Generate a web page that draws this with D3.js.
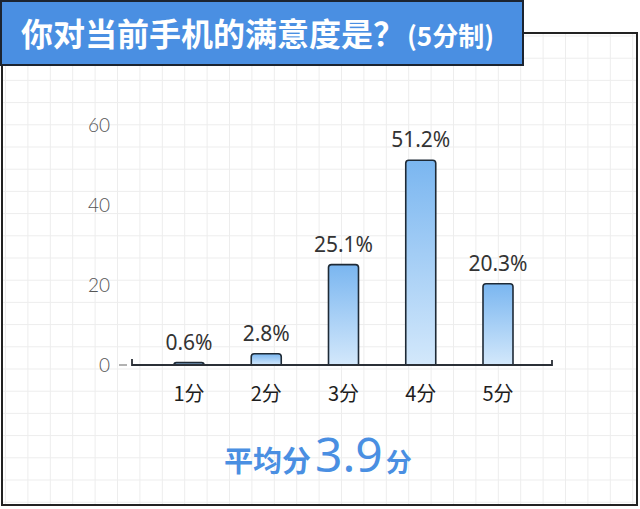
<!DOCTYPE html>
<html>
<head>
<meta charset="utf-8">
<script src="https://cdn.jsdelivr.net/npm/d3@7"></script>
<style>
  body { margin: 0; background: #fff; }
  svg { display: block; font-family: "Noto Sans CJK SC", "Noto Sans", sans-serif; }
</style>
</head>
<body>
<div id="vis"></div>
<script>
// data
const categories = ["1分", "2分", "3分", "4分", "5分"];
const values = [0.6, 2.8, 25.1, 51.2, 20.3];
const yTicks = [0, 20, 40, 60];
const titleMain = "你对当前手机的满意度是？";
const titleSub = "(5分制)";
const avgLabel = "平均分";
const avgValue = "3.9";

const W = 640, H = 509;
const blue = "#4a8fe2";

const svg = d3.select("#vis").append("svg")
  .attr("width", W)
  .attr("height", H);

const defs = svg.append("defs");
const grad = defs.append("linearGradient")
  .attr("id", "barGrad")
  .attr("x1", 0).attr("y1", 0).attr("x2", 0).attr("y2", 1);
grad.append("stop").attr("offset", "0%").attr("stop-color", "#7ab6f0");
grad.append("stop").attr("offset", "100%").attr("stop-color", "#d3e8fb");

// background grid
const gridG = svg.append("g").attr("stroke", "#ededed").attr("stroke-width", 1);
gridG.selectAll(".vg")
  .data(d3.range(5.5, W, 22.4))
  .join("line")
  .attr("x1", d => d).attr("x2", d => d)
  .attr("y1", 34).attr("y2", 505);
gridG.selectAll(".hg")
  .data(d3.range(36, 505, 22.2))
  .join("line")
  .attr("y1", d => d).attr("y2", d => d)
  .attr("x1", 2).attr("x2", 637);

// outer frame
svg.append("path")
  .attr("d", "M523,33 L637,33 L637,505 L2,505 L2,65")
  .attr("fill", "none")
  .attr("stroke", "#222")
  .attr("stroke-width", 2);

// title box
svg.append("rect")
  .attr("x", 1).attr("y", 1)
  .attr("width", 522).attr("height", 64)
  .attr("fill", blue)
  .attr("stroke", "#1c2430")
  .attr("stroke-width", 2);

const title = svg.append("text")
  .attr("x", 21)
  .attr("y", 46)
  .attr("fill", "#fff")
  .attr("font-weight", "bold");
title.append("tspan").attr("font-size", 32).text(titleMain);
title.append("tspan").attr("font-size", 26).attr("dx", 2).text(titleSub);

// scales
const x = d3.scalePoint()
  .domain(categories)
  .range([189, 498]);

const y = d3.scaleLinear()
  .domain([0, 60])
  .range([365, 125]);

const barW = 30;

// y axis labels
const yAxis = svg.append("g")
  .attr("transform", "translate(111,0)")
  .call(d3.axisLeft(y).tickValues(yTicks).tickSize(0).tickPadding(1));
yAxis.select(".domain").remove();
yAxis.selectAll("text")
  .attr("fill", "#555")
  .attr("font-size", 19)
  .attr("font-weight", 300)
  .attr("font-family", "Lato, 'Noto Sans', sans-serif");

// little dash next to 0
svg.append("line")
  .attr("x1", 119).attr("x2", 127)
  .attr("y1", y(0)).attr("y2", y(0))
  .attr("stroke", "#999")
  .attr("stroke-width", 1.5);

// bars
const barPath = d => {
  const x0 = x(d.cat) - barW / 2, x1 = x0 + barW;
  const top = y(d.v), base = y(0);
  const r = Math.min(3, base - top);
  return `M${x0},${base} L${x0},${top + r} Q${x0},${top} ${x0 + r},${top} ` +
         `L${x1 - r},${top} Q${x1},${top} ${x1},${top + r} L${x1},${base}`;
};

const data = categories.map((c, i) => ({ cat: c, v: values[i] }));

svg.selectAll(".bar")
  .data(data)
  .join("path")
  .attr("class", "bar")
  .attr("d", barPath)
  .attr("fill", "url(#barGrad)")
  .attr("stroke", "#1e2a36")
  .attr("stroke-width", 1.6);

// baseline with small end hooks
svg.append("path")
  .attr("d", `M132,${y(0) - 6} L132,${y(0)} L552,${y(0)} L552,${y(0) - 5}`)
  .attr("fill", "none")
  .attr("stroke", "#2a2f36")
  .attr("stroke-width", 1.8);

// value labels
svg.selectAll(".val")
  .data(data)
  .join("text")
  .attr("class", "val")
  .attr("x", d => x(d.cat))
  .attr("y", d => y(d.v) - 13)
  .attr("text-anchor", "middle")
  .attr("font-size", 21)
  .attr("font-family", "'Noto Sans', sans-serif")
  .attr("fill", "#333")
  .text(d => d.v.toFixed(1) + "%");

// category labels
svg.selectAll(".cat")
  .data(categories)
  .join("text")
  .attr("class", "cat")
  .attr("x", d => x(d))
  .attr("y", 401)
  .attr("text-anchor", "middle")
  .attr("font-size", 20)
  .attr("fill", "#1e1e1e")
  .text(d => d);

// average score
const avg = svg.append("text")
  .attr("x", 224)
  .attr("y", 472)
  .attr("fill", blue);
avg.append("tspan").attr("font-size", 29).attr("font-weight", "bold").text(avgLabel);
avg.append("tspan").attr("font-size", 48).attr("dx", 4)
  .attr("font-family", "'Noto Sans', sans-serif")
  .text(avgValue);
avg.append("tspan").attr("font-size", 26).attr("font-weight", "bold").attr("dx", 3).text("分");
</script>
</body>
</html>
